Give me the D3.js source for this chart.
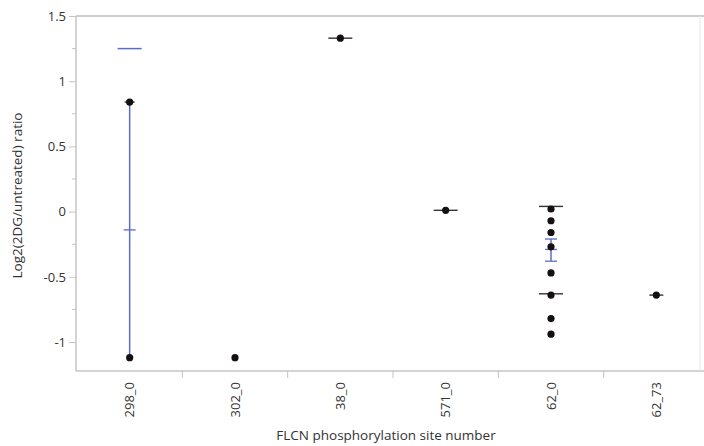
<!DOCTYPE html>
<html>
<head>
<meta charset="utf-8">
<script src="https://cdn.jsdelivr.net/npm/d3@7"></script>
<style>
  body { margin: 0; background: #fff; }
  text { font-family: "Open Sans", sans-serif; fill: #333; }
</style>
</head>
<body>
<script>
// categories and readings taken from the plot
var categories = ["298_0", "302_0", "38_0", "571_0", "62_0", "62_73"];

// individual points (log2 ratio)
var pointCats   = ["298_0", "298_0", "302_0", "38_0", "571_0",
                   "62_0", "62_0", "62_0", "62_0", "62_0", "62_0", "62_0", "62_0",
                   "62_73"];
var pointValues = [0.84, -1.12, -1.12, 1.33, 0.01,
                   0.02, -0.07, -0.16, -0.27, -0.47, -0.64, -0.82, -0.94,
                   -0.64];

// blue mean error bars
var barCats  = ["298_0", "62_0"];
var barMeans = [-0.14, -0.29];
var barLow   = [-1.12, -0.38];
var barHigh  = [0.84, -0.21];

// blue std dev line
var sdCats   = ["298_0"];
var sdValues = [1.25];

// black mean / std lines
var lineCats   = ["298_0", "38_0", "571_0", "62_0", "62_0", "62_73"];
var lineValues = [0.84, 1.33, 0.01, 0.04, -0.63, -0.64];

var yTicks = [-1, -0.5, 0, 0.5, 1, 1.5];
var yMinor = [-0.75, -0.25, 0.25, 0.75, 1.25];

var width = 704, height = 446;
var svg = d3.select("body").append("svg")
    .attr("width", width)
    .attr("height", height);

var pLeft = 76, pTop = 16, pBottom = 371, pRight = 700;

var x = d3.scaleBand().domain(categories).range([77, 709]);
var y = d3.scaleLinear().domain([-1.222, 1.5]).range([pBottom, pTop]);
var cx = function(c) { return x(c) + x.bandwidth() / 2; };

var frame = "#c4c4c4";

// frame
svg.append("line").attr("x1", pLeft).attr("x2", width).attr("y1", pTop).attr("y2", pTop)
    .attr("stroke", "#cfcfcf").attr("stroke-width", 2);
svg.append("line").attr("x1", pLeft).attr("x2", width).attr("y1", pBottom).attr("y2", pBottom)
    .attr("stroke", frame).attr("stroke-width", 1.5);
svg.append("line").attr("x1", pLeft).attr("x2", pLeft).attr("y1", pTop).attr("y2", pBottom)
    .attr("stroke", frame).attr("stroke-width", 1.5);
svg.append("line").attr("x1", pRight).attr("x2", pRight).attr("y1", pTop).attr("y2", pBottom)
    .attr("stroke", "#e6e6e6").attr("stroke-width", 1);

// y axis
svg.selectAll(".minor").data(yMinor).enter().append("line")
    .attr("x1", pLeft - 4).attr("x2", pLeft)
    .attr("y1", function(d) { return y(d); }).attr("y2", function(d) { return y(d); })
    .attr("stroke", frame);

var yAxis = d3.axisLeft(y).tickValues(yTicks).tickSize(7).tickPadding(3)
    .tickFormat(function(d) { return String(d); });
var gy = svg.append("g").attr("transform", "translate(" + pLeft + ",0)").call(yAxis);
gy.select(".domain").remove();
gy.selectAll(".tick line").attr("stroke", frame);
gy.selectAll(".tick text").style("font-size", "13px").attr("fill", "#333");

svg.append("text")
    .attr("transform", "translate(22," + ((pTop + pBottom) / 2 + 2) + ") rotate(-90)")
    .attr("text-anchor", "middle")
    .style("font-size", "13.5px")
    .text("Log2(2DG/untreated) ratio");

// x axis: ticks between categories
var bounds = categories.slice(1).map(function(c) { return x(c); });
svg.selectAll(".xsep").data(bounds).enter().append("line")
    .attr("x1", function(d) { return d; }).attr("x2", function(d) { return d; })
    .attr("y1", pBottom).attr("y2", pBottom + 7)
    .attr("stroke", frame);

svg.selectAll(".xlab").data(categories).enter().append("text")
    .attr("transform", function(d) { return "translate(" + (cx(d) + 4.5) + "," + (pBottom + 11) + ") rotate(-90)"; })
    .attr("text-anchor", "end")
    .style("font-size", "13px")
    .text(function(d) { return d; });

svg.append("text")
    .attr("x", (pLeft + pRight) / 2 - 2)
    .attr("y", 440)
    .attr("text-anchor", "middle")
    .style("font-size", "13.5px")
    .text("FLCN phosphorylation site number");

var blue = "#5a6cc8";

// blue error bars
svg.selectAll(".ebar").data(barCats).enter().append("line")
    .attr("x1", function(d) { return cx(d); }).attr("x2", function(d) { return cx(d); })
    .attr("y1", function(d, i) { return y(barHigh[i]); })
    .attr("y2", function(d, i) { return y(barLow[i]); })
    .attr("stroke", blue).attr("stroke-width", 1.5);
svg.selectAll(".emean").data(barCats).enter().append("line")
    .attr("x1", function(d) { return cx(d) - 6; }).attr("x2", function(d) { return cx(d) + 6; })
    .attr("y1", function(d, i) { return y(barMeans[i]); })
    .attr("y2", function(d, i) { return y(barMeans[i]); })
    .attr("stroke", blue).attr("stroke-width", 1.3);
svg.selectAll(".ecap").data(barCats.slice(1)).enter().append("g")
    .each(function(d) {
        var i = barCats.indexOf(d);
        var g = d3.select(this);
        [barLow[i], barHigh[i]].forEach(function(v) {
            g.append("line")
                .attr("x1", cx(d) - 6).attr("x2", cx(d) + 6)
                .attr("y1", y(v)).attr("y2", y(v))
                .attr("stroke", blue).attr("stroke-width", 1.3);
        });
    });

// blue std dev line
svg.selectAll(".sd").data(sdCats).enter().append("line")
    .attr("x1", function(d) { return cx(d) - 12; }).attr("x2", function(d) { return cx(d) + 12; })
    .attr("y1", function(d, i) { return y(sdValues[i]); })
    .attr("y2", function(d, i) { return y(sdValues[i]); })
    .attr("stroke", blue).attr("stroke-width", 1.5);

// black lines
svg.selectAll(".bl").data(lineCats).enter().append("line")
    .attr("x1", function(d) { return cx(d) - (d === "298_0" ? 5 : d === "62_73" ? 7 : 12); })
    .attr("x2", function(d) { return cx(d) + (d === "298_0" ? 5 : d === "62_73" ? 7 : 12); })
    .attr("y1", function(d, i) { return y(lineValues[i]); })
    .attr("y2", function(d, i) { return y(lineValues[i]); })
    .attr("stroke", "#333").attr("stroke-width", 1.4);

// points
svg.selectAll(".pt").data(pointValues).enter().append("circle")
    .attr("cx", function(d, i) { return cx(pointCats[i]); })
    .attr("cy", function(d) { return y(d); })
    .attr("r", 3.6)
    .attr("fill", "#151010");
</script>
</body>
</html>
